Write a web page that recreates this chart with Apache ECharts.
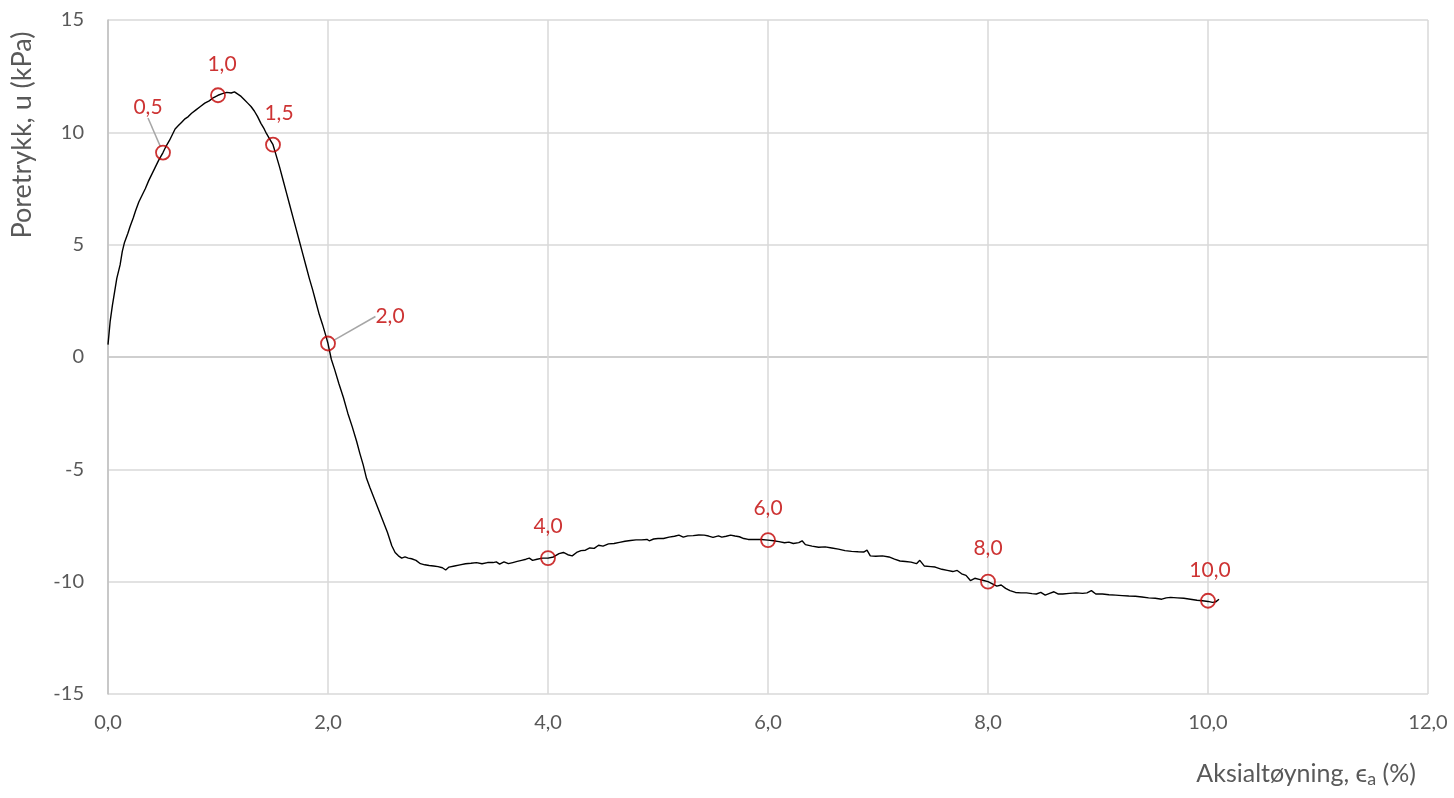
<!DOCTYPE html>
<html>
<head>
<meta charset="utf-8">
<script src="https://cdn.jsdelivr.net/npm/echarts@6/dist/echarts.min.js"></script>
<style>
  html, body { margin: 0; padding: 0; background: #fff; }
  #chart { width: 1454px; height: 798px; }
</style>
</head>
<body>
<div id="chart"></div>
<script>
// Axial strain (%) and measured pore pressure (kPa) along the test
const strainPct = [
  0.00,0.02,0.04,0.06,0.08,0.11,0.13,0.15,0.18,0.20,0.23,0.25,0.28,0.31,0.34,0.37,0.40,0.43,0.46,0.50,
  0.53,0.56,0.59,0.61,0.64,0.67,0.70,0.73,0.76,0.80,0.84,0.88,0.92,0.96,1.00,1.04,1.08,1.12,1.15,1.18,
  1.21,1.24,1.27,1.30,1.33,1.36,1.39,1.42,1.44,1.47,1.50,1.53,1.56,1.59,1.62,1.65,1.68,1.71,1.74,1.77,
  1.80,1.83,1.86,1.89,1.92,1.95,1.98,2.00,2.03,2.06,2.10,2.14,2.18,2.22,2.26,2.29,2.32,2.35,2.38,2.42,
  2.46,2.50,2.54,2.58,2.61,2.64,2.67,2.70,2.73,2.76,2.80,2.84,2.88,2.92,2.96,3.00,3.04,3.07,3.10,3.15,
  3.20,3.25,3.30,3.35,3.40,3.45,3.50,3.53,3.56,3.60,3.64,3.68,3.72,3.76,3.80,3.83,3.86,3.90,3.95,4.00,
  4.05,4.10,4.14,4.18,4.22,4.26,4.30,4.34,4.38,4.42,4.46,4.50,4.55,4.60,4.65,4.70,4.75,4.80,4.85,4.90,
  4.92,4.96,5.00,5.05,5.10,5.15,5.19,5.23,5.27,5.32,5.37,5.42,5.46,5.50,5.55,5.58,5.62,5.66,5.70,5.74,
  5.78,5.82,5.88,5.94,6.00,6.05,6.10,6.15,6.19,6.23,6.28,6.31,6.34,6.40,6.46,6.52,6.58,6.64,6.70,6.76,
  6.82,6.87,6.90,6.93,6.98,7.04,7.10,7.15,7.20,7.25,7.30,7.35,7.38,7.42,7.48,7.52,7.58,7.63,7.68,7.72,
  7.76,7.80,7.84,7.88,7.92,7.96,8.00,8.04,8.08,8.12,8.16,8.20,8.25,8.30,8.35,8.40,8.44,8.48,8.52,8.56,
  8.60,8.64,8.68,8.74,8.80,8.86,8.90,8.94,8.98,9.04,9.10,9.16,9.22,9.28,9.34,9.40,9.46,9.52,9.58,9.62,
  9.66,9.72,9.78,9.84,9.90,9.95,10.00,10.04,10.07,10.10
];
const porePressure = [
  0.55,1.6,2.3,2.9,3.5,4.1,4.7,5.1,5.5,5.8,6.2,6.5,6.9,7.2,7.5,7.85,8.15,8.45,8.75,9.1,
  9.4,9.65,9.95,10.15,10.3,10.45,10.6,10.7,10.85,11.0,11.15,11.3,11.4,11.55,11.65,11.72,11.78,11.75,11.8,11.7,
  11.6,11.45,11.3,11.15,10.95,10.7,10.4,10.15,9.95,9.7,9.45,8.95,8.45,7.9,7.35,6.8,6.25,5.7,5.15,4.6,
  4.05,3.5,3.0,2.45,1.9,1.45,0.95,0.6,-0.1,-0.55,-1.2,-1.8,-2.5,-3.1,-3.75,-4.3,-4.8,-5.4,-5.8,-6.3,
  -6.8,-7.3,-7.8,-8.4,-8.7,-8.85,-8.95,-8.9,-8.95,-8.98,-9.05,-9.2,-9.25,-9.28,-9.3,-9.33,-9.38,-9.48,-9.35,-9.3,
  -9.25,-9.2,-9.18,-9.15,-9.2,-9.15,-9.15,-9.12,-9.22,-9.12,-9.2,-9.15,-9.1,-9.05,-9.0,-8.95,-9.05,-9.0,-8.95,-8.95,
  -8.9,-8.75,-8.7,-8.8,-8.85,-8.7,-8.62,-8.6,-8.5,-8.52,-8.38,-8.42,-8.32,-8.3,-8.25,-8.2,-8.17,-8.14,-8.14,-8.12,
  -8.18,-8.1,-8.08,-8.08,-8.02,-7.98,-7.93,-8.02,-7.96,-7.95,-7.92,-7.93,-7.97,-8.03,-7.96,-8.02,-7.98,-7.93,-7.97,-8.0,
  -8.08,-8.12,-8.12,-8.12,-8.15,-8.18,-8.22,-8.27,-8.24,-8.3,-8.26,-8.18,-8.35,-8.42,-8.47,-8.45,-8.5,-8.55,-8.62,-8.65,
  -8.67,-8.68,-8.6,-8.85,-8.87,-8.85,-8.9,-9.0,-9.08,-9.1,-9.13,-9.2,-9.05,-9.3,-9.33,-9.35,-9.45,-9.5,-9.55,-9.5,
  -9.65,-9.72,-9.95,-9.85,-9.9,-9.95,-10.0,-10.1,-10.2,-10.15,-10.3,-10.4,-10.48,-10.5,-10.5,-10.53,-10.55,-10.48,-10.6,-10.52,
  -10.45,-10.55,-10.55,-10.52,-10.5,-10.52,-10.5,-10.4,-10.55,-10.55,-10.58,-10.6,-10.62,-10.64,-10.65,-10.68,-10.72,-10.74,-10.78,-10.72,
  -10.7,-10.72,-10.74,-10.78,-10.83,-10.85,-10.88,-10.92,-10.9,-10.78
];

// Highlighted strain levels and the pore pressure read there
const markerStrain = [0.5, 1.0, 1.5, 2.0, 4.0, 6.0, 8.0, 10.0];
const markerPressure = [9.1, 11.65, 9.45, 0.6, -8.95, -8.15, -10.0, -10.85];

// Label offsets (px) from each highlighted point
const labelShift = [[-15, -45], [4, -31], [6, -31], [62, -27], [0, -32], [0, -32], [0, -33], [2, -31]];
const withLeader = [true, false, false, true, false, false, false, false];

const FONT = 'Lato, "Open Sans", sans-serif';
const fmtComma = (v, d) => v.toFixed(d).replace('.', ',');

const curve = strainPct.map((x, i) => [x, porePressure[i]]);
const markers = markerStrain.map((x, i) => ({
  value: [x, markerPressure[i]],
  labelLine: { show: withLeader[i] }
}));

// Grid line colours: the zero line is a shade darker
const yGridColors = ['#d9d9d9', '#d9d9d9', '#d9d9d9', '#bfbfbf', '#d9d9d9', '#d9d9d9', '#d9d9d9'];

const chart = echarts.init(document.getElementById('chart'));
chart.setOption({
  animation: false,
  backgroundColor: '#ffffff',
  grid: { left: 108, right: 26, top: 20, bottom: 104, containLabel: false },
  xAxis: {
    type: 'value',
    min: 0, max: 12, interval: 2,
    axisLine: { show: false },
    axisTick: { show: false },
    splitLine: { show: true, lineStyle: { color: '#d9d9d9', width: 1.5 } },
    axisLabel: {
      color: '#595959', fontFamily: FONT, fontSize: 20, margin: 19,
      formatter: v => fmtComma(v, 1)
    }
  },
  yAxis: {
    type: 'value',
    min: -15, max: 15, interval: 5,
    axisLine: { show: true, onZero: false, lineStyle: { color: '#bfbfbf', width: 1.5 } },
    axisTick: { show: false },
    splitLine: { show: true, lineStyle: { color: yGridColors, width: 1.5 } },
    axisLabel: { color: '#595959', fontFamily: FONT, fontSize: 20, margin: 24 }
  },
  graphic: [
    {
      type: 'text',
      x: 22, y: 135,
      rotation: Math.PI / 2,
      style: {
        text: 'Poretrykk, u (kPa)',
        fill: '#595959',
        font: '27px ' + FONT,
        textAlign: 'center',
        textVerticalAlign: 'middle'
      }
    },
    {
      type: 'text',
      right: 38, top: 761,
      style: {
        text: '{t|Aksialtøyning, ϵ}{s|a}{t| (%)}',
        rich: {
          t: { fill: '#595959', fontFamily: FONT, fontSize: 25 },
          s: { fill: '#595959', fontFamily: FONT, fontSize: 18, padding: [12, 0, 0, 0] }
        }
      }
    }
  ],
  series: [
    {
      type: 'line',
      data: curve,
      showSymbol: false,
      smooth: false,
      lineStyle: { color: '#000000', width: 1.4 },
      z: 2
    },
    {
      type: 'scatter',
      data: markers,
      symbol: 'circle',
      symbolSize: 14,
      itemStyle: { color: 'rgba(255,255,255,0)', borderColor: '#c00000', borderWidth: 1.8 },
      label: {
        show: true,
        position: 'inside',
        color: '#c00000',
        fontFamily: FONT,
        fontSize: 21,
        formatter: p => fmtComma(p.value[0], 1)
      },
      labelLine: { show: false, lineStyle: { color: '#a6a6a6', width: 1.5 } },
      labelLayout: p => ({ dx: labelShift[p.dataIndex][0], dy: labelShift[p.dataIndex][1] }),
      z: 3
    }
  ]
});
</script>
</body>
</html>
